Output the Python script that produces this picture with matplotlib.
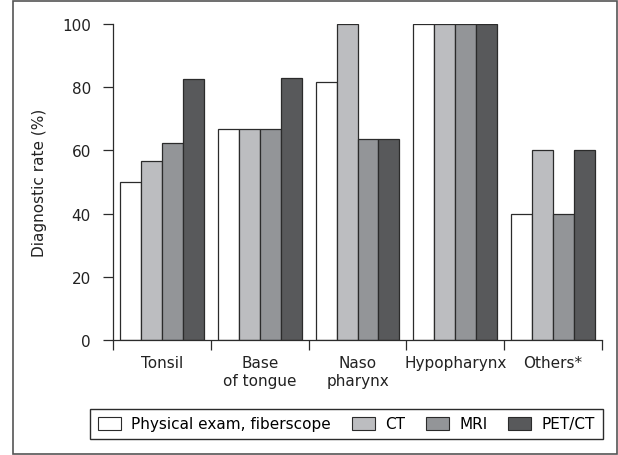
import numpy as np
import matplotlib
matplotlib.use("Agg")
import matplotlib.pyplot as plt
from matplotlib.patches import Rectangle, Patch

plt.rcParams['font.family'] = ['DejaVu Sans']

# data
sites = ["Tonsil", "Base\nof tongue", "Naso\npharynx", "Hypopharynx", "Others*"]
methods = ["Physical exam, fiberscope", "CT", "MRI", "PET/CT"]
physical = [50, 66.7, 81.8, 100, 40]
ct = [56.7, 66.7, 100, 100, 60]
mri = [62.5, 66.7, 63.6, 100, 40]
petct = [82.6, 82.8, 63.6, 100, 60]
colors = ["#ffffff", "#bcbdc0", "#939598", "#58595b"]
fs = 11

fig = plt.figure(figsize=(6.18, 4.56), dpi=100)
ax = fig.add_axes([113 / 618, 1 - 341 / 456, (602 - 113) / 618, 316 / 456])

x = np.arange(len(sites))
w = 21 / 98
for i, vals in enumerate([physical, ct, mri, petct]):
    ax.bar(x + (i - 1.5) * w, vals, w, color=colors[i], edgecolor="#2b2b2b",
           linewidth=0.9, label=methods[i])

ax.set_xlim(-0.5, len(sites) - 0.5)
ax.set_ylim(0, 100)
ax.set_yticks([0, 20, 40, 60, 80, 100])
ax.set_xticks(np.arange(len(sites) + 1) - 0.5)
ax.set_xticklabels([])
ax.set_xticks(x, minor=True)
ax.set_xticklabels(sites, minor=True, linespacing=1.25)
ax.tick_params(axis="x", which="major", length=7, width=0.9, color="#2b2b2b")
ax.tick_params(axis="x", which="minor", length=0, pad=11, labelsize=fs, labelcolor="#222222")
ax.tick_params(axis="y", length=7, width=0.9, color="#2b2b2b", labelsize=fs,
               labelcolor="#222222", pad=9)
for s in ["top", "right"]:
    ax.spines[s].set_visible(False)
for s in ["left", "bottom"]:
    ax.spines[s].set_color("#2b2b2b")
    ax.spines[s].set_linewidth(0.9)
ax.set_ylabel("Diagnostic rate (%)", fontsize=fs, color="#222222", labelpad=11)

handles = [Patch(facecolor=c, edgecolor="#2b2b2b", linewidth=0.8) for c in colors]
fig.legend(handles, methods, loc="lower left", ncol=4, mode="expand",
           bbox_to_anchor=(90 / 618, 1 - 440 / 456, 513 / 618, 34 / 456),
           fancybox=False, edgecolor="#2b2b2b", fontsize=fs, borderaxespad=0,
           handlelength=1.5, handleheight=0.95, handletextpad=0.7, columnspacing=0.5,
           borderpad=0.5, framealpha=1)

fig.patches.append(Rectangle((13 / 618, 1 / 456), 604 / 618, 453 / 456,
                             transform=fig.transFigure, fill=False,
                             edgecolor="#555555", linewidth=1.2))

fig.savefig("out.png", dpi=100)
